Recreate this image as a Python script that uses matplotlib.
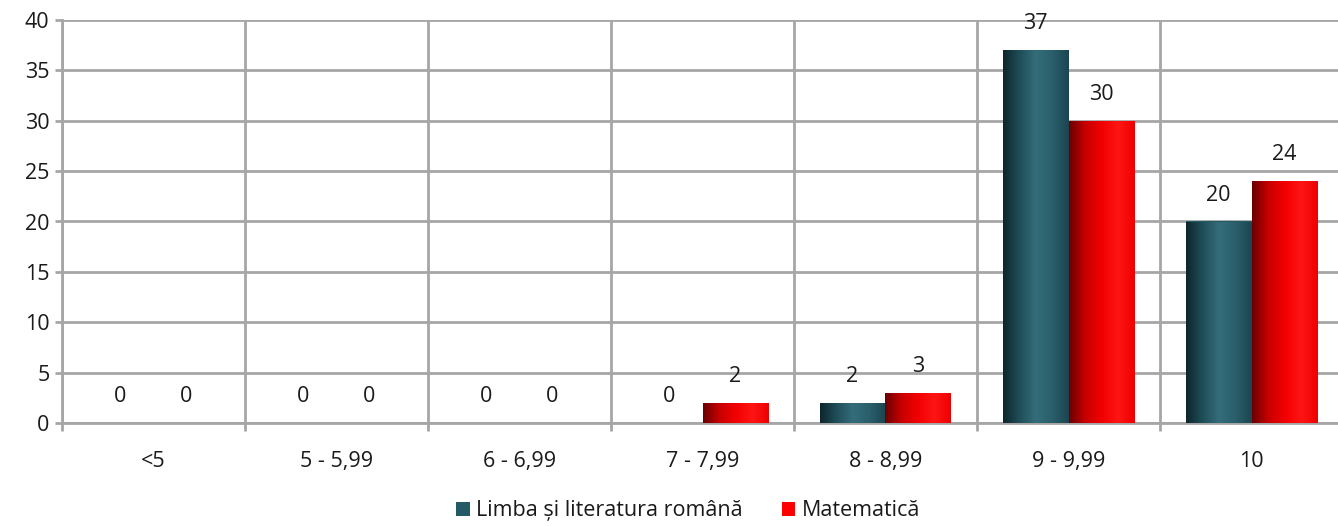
import numpy as np
import matplotlib as mpl
mpl.use('Agg')
import matplotlib.pyplot as plt
from matplotlib.colors import LinearSegmentedColormap

categories = ['<5', '5 - 5,99', '6 - 6,99', '7 - 7,99', '8 - 8,99', '9 - 9,99', '10']
romana = [0, 0, 0, 0, 2, 37, 20]
matematica = [0, 0, 0, 2, 3, 30, 24]
series_names = ['Limba și literatura română', 'Matematică']

plt.rcParams['font.family'] = ['Open Sans', 'DejaVu Sans']

teal_cmap = LinearSegmentedColormap.from_list('teal', ['#0e252b', '#1f4e59', '#346d7a', '#2a5f6b', '#1a4550'])
red_cmap = LinearSegmentedColormap.from_list('red', ['#6a0000', '#c80000', '#f20000', '#ff1515', '#ee0000'])

fig = plt.figure(figsize=(13.38, 5.26), dpi=100)
ax = fig.add_axes([62 / 1338, 1 - 423 / 526, (1343 - 62) / 1338, (423 - 20) / 526])

x = np.arange(len(categories))
w = 0.36
grad = np.linspace(0, 1, 256).reshape(1, -1)

for vals, color, cmap, off, name in [(romana, '#245a66', teal_cmap, -w / 2, series_names[0]),
                                     (matematica, '#ff0000', red_cmap, w / 2, series_names[1])]:
    bars = ax.bar(x + off, vals, w, color=color, label=name, zorder=3)
    for b, v in zip(bars, vals):
        if v > 0:
            im = ax.imshow(grad, cmap=cmap, aspect='auto', zorder=4,
                           extent=[b.get_x(), b.get_x() + b.get_width(), 0, v])
            im.set_clip_path(b)
        ax.annotate(str(v), (b.get_x() + b.get_width() / 2, v), xytext=(0, 19),
                    textcoords='offset points', ha='center', va='center',
                    fontsize=15.5, color='#1a1a1a', zorder=5)

ax.set_xlim(-0.5, len(categories) - 0.5)
ax.set_ylim(0, 40)
ax.set_yticks(np.arange(0, 41, 5))
ax.set_xticks(np.arange(len(categories) + 1) - 0.5)
ax.set_xticklabels([])
ax.set_xticks(x, minor=True)
ax.set_xticklabels(categories, minor=True)
ax.tick_params(axis='x', which='minor', length=0, pad=20, labelsize=15.5, labelcolor='#1a1a1a')
ax.tick_params(axis='x', which='major', length=6, color='#a6a6a6', width=2)
ax.tick_params(axis='y', length=5, color='#a6a6a6', width=2, labelsize=15.5, pad=4, labelcolor='#1a1a1a')
ax.grid(True, which='major', color='#a6a6a6', linewidth=2, zorder=0)
ax.set_axisbelow(True)
for s in ['top', 'right']:
    ax.spines[s].set_visible(False)
for s in ['left', 'bottom']:
    ax.spines[s].set_color('#a6a6a6')
    ax.spines[s].set_linewidth(2)

fig.legend(loc='lower center', bbox_to_anchor=(688 / 1338, -0.028), ncol=2, frameon=False,
           fontsize=15.5, handlelength=0.65, handleheight=0.65, handletextpad=0.3, columnspacing=1.8,
           labelcolor='#1a1a1a')

fig.savefig('out.png', dpi=100)
